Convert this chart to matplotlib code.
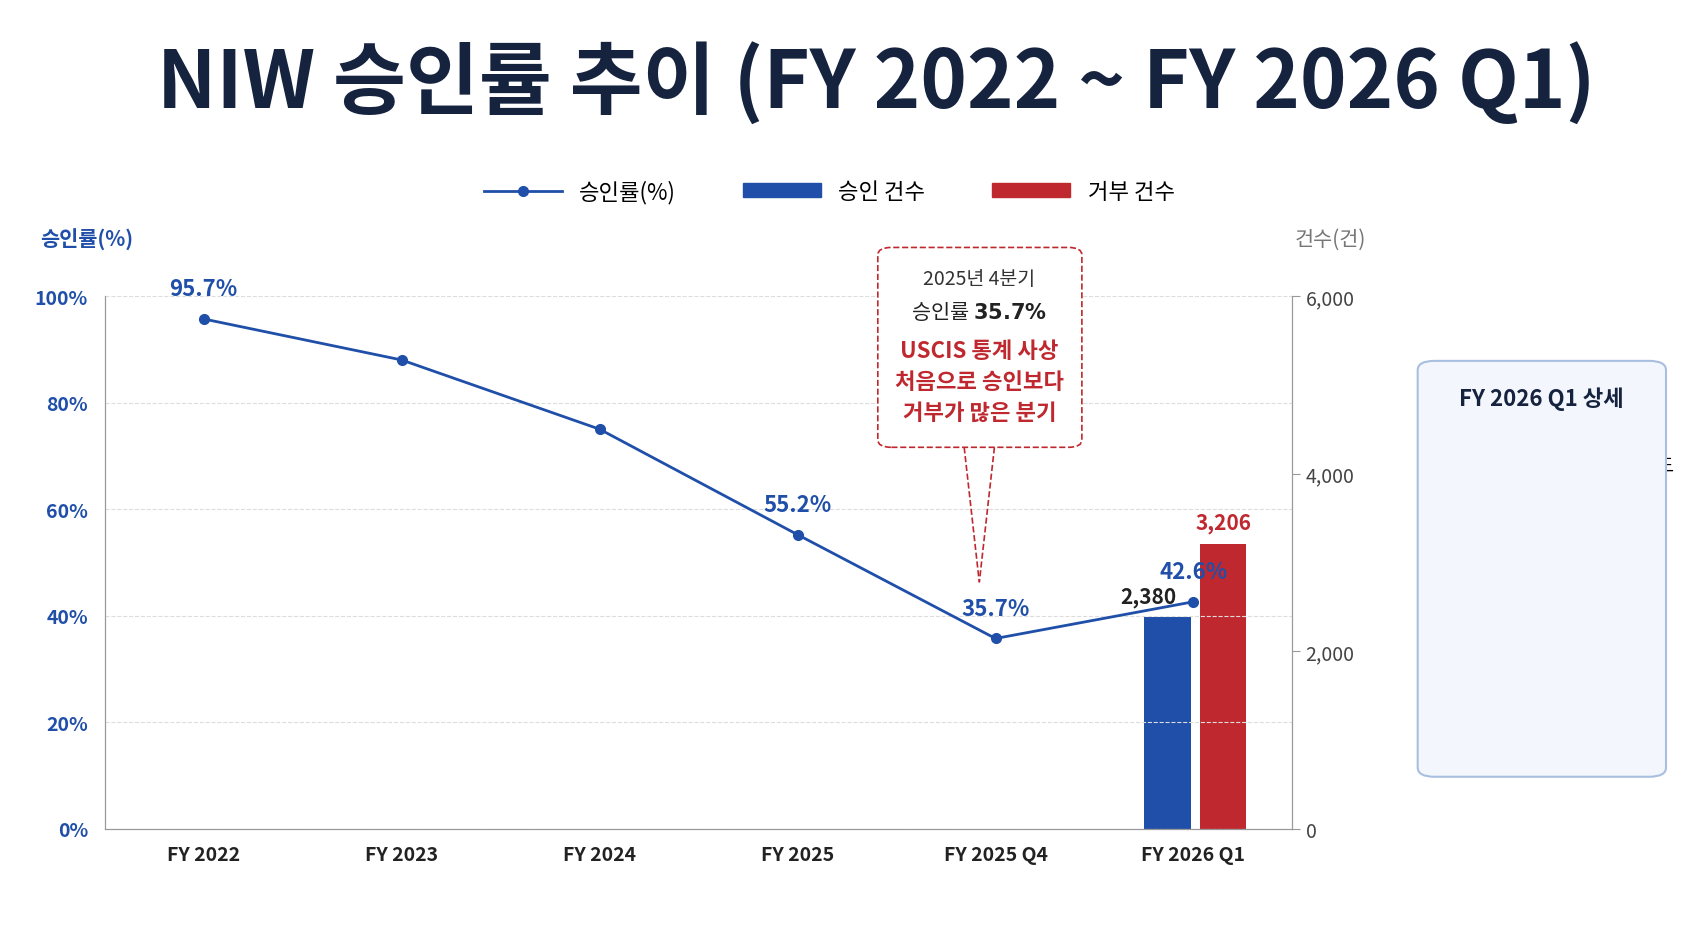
import matplotlib
matplotlib.use("Agg")
import matplotlib.pyplot as plt
from matplotlib.patches import FancyBboxPatch, Circle, Rectangle
from matplotlib.lines import Line2D

plt.rcParams['font.family'] = ['Noto Sans CJK KR', 'DejaVu Sans']

categories = ['FY 2022', 'FY 2023', 'FY 2024', 'FY 2025', 'FY 2025 Q4', 'FY 2026 Q1']
approval_rate = [95.7, 88.0, 75.0, 55.2, 35.7, 42.6]
rate_labels = {0: '95.7%', 3: '55.2%', 4: '35.7%', 5: '42.6%'}
approved_q1 = 2380
denied_q1 = 3206

BLUE = '#1f4fa8'
RED = '#c0282f'
NAVY = '#15233f'

# layout coordinates measured on a 1568x860 view of the reference
W, H = 1568, 860
fig = plt.figure(figsize=(16.93, 9.29), dpi=100)
fig.patch.set_facecolor('white')

def fx(px):
    return px / W

def fy(py):
    return 1 - py / H

ax = fig.add_axes([fx(97), fy(768), fx(1197) - fx(97), fy(275) - fy(768)])
ax2 = ax.twinx()
ax.set_zorder(ax2.get_zorder() + 1)
ax.patch.set_visible(False)

x = list(range(len(categories)))
ax.plot(x, approval_rate, color=BLUE, lw=2, marker='o', ms=7, zorder=5)
for i, lbl in rate_labels.items():
    ax.text(i, approval_rate[i] + 3.5, lbl, ha='center', va='bottom', color=BLUE,
            fontsize=16, fontweight='bold')

ax.set_xlim(-0.5, 5.5)
ax.set_ylim(0, 100)
ax.set_yticks([0, 20, 40, 60, 80, 100])
ax.set_yticklabels([f'{v}%' for v in [0, 20, 40, 60, 80, 100]], color=BLUE,
                   fontsize=14, fontweight='bold')
ax.set_xticks(x)
ax.set_xticklabels(categories, fontsize=14, fontweight='bold', color='#222222')
ax.grid(axis='y', ls='--', color='#dddddd', lw=0.8)
ax.tick_params(length=0, pad=12)

ax2.bar(5 - 0.13, approved_q1, width=0.235, color=BLUE, zorder=2)
ax2.bar(5 + 0.15, denied_q1, width=0.235, color=RED, zorder=2)
ax2.text(5 - 0.13 - 0.1, approved_q1 + 120, f'{approved_q1:,}', ha='center', va='bottom',
         fontsize=15, fontweight='bold', color='#222222')
ax2.text(5 + 0.15, denied_q1 + 120, f'{denied_q1:,}', ha='center', va='bottom',
         fontsize=15, fontweight='bold', color=RED)
ax2.set_ylim(0, 6000)
ax2.set_yticks([0, 2000, 4000, 6000])
ax2.set_yticklabels(['0', '2,000', '4,000', '6,000'], fontsize=14, color='#444444')
ax2.tick_params(length=6, color='#999999')

for a in (ax, ax2):
    a.spines['top'].set_visible(False)
    for s in ('left', 'right', 'bottom'):
        a.spines[s].set_color('#999999')

# title
fig.text(fx(812), fy(77), 'NIW 승인률 추이 (FY 2022 ~ FY 2026 Q1)', ha='center', va='center',
         fontsize=57, fontweight='bold', color=NAVY)

# legend
handles = [Line2D([0], [0], color=BLUE, lw=2, marker='o', ms=7),
           Rectangle((0, 0), 1, 1, color=BLUE),
           Rectangle((0, 0), 1, 1, color=RED)]
fig.legend(handles, ['승인률(%)', '승인 건수', '거부 건수'], loc='center',
           bbox_to_anchor=(fx(768), fy(178)), ncol=3, frameon=False, fontsize=16,
           handlelength=3.5, handleheight=0.6, columnspacing=3)

fig.text(fx(37), fy(222), '승인률(%)', ha='left', va='center', fontsize=15,
         fontweight='bold', color=BLUE)
fig.text(fx(1265), fy(222), '건수(건)', ha='right', va='center', fontsize=15, color='#777777')

# callout
cb = FancyBboxPatch((fx(813), fy(415)), fx(189), fy(230) - fy(415),
                    boxstyle='round,pad=0,rounding_size=0.008', transform=fig.transFigure,
                    fc='white', ec=RED, ls='--', lw=1.2, zorder=10)
fig.patches.append(cb)
for xa in (893, 921):
    fig.lines.append(Line2D([fx(xa), fx(907)], [fy(415), fy(540)], transform=fig.transFigure,
                            color=RED, ls='--', lw=1.2))
cx = fx(907)
fig.text(cx, fy(259), '2025년 4분기', ha='center', va='center', fontsize=14, color='#333333',
         zorder=11)
fig.text(cx, fy(289), '승인률 $\\bf{35.7\\%}$', ha='center', va='center', fontsize=15,
         color='#222222', zorder=11)
fig.text(cx, fy(354), 'USCIS 통계 사상\n처음으로 승인보다\n거부가 많은 분기', ha='center',
         va='center', fontsize=16, fontweight='bold', color=RED, linespacing=1.45, zorder=11)

# side panel
pb = FancyBboxPatch((fx(1313), fy(720)), fx(230), fy(335) - fy(720),
                    boxstyle='round,pad=0,rounding_size=0.01', transform=fig.transFigure,
                    fc='#f3f7fd', ec='#a9bfe0', lw=1.5)
fig.patches.append(pb)
fig.text(fx(1428), fy(370), 'FY 2026 Q1 상세', ha='center', va='center', fontsize=16,
         fontweight='bold', color=NAVY)

ax_icons = fig.add_axes([0, 0, 1, 1], facecolor='none')
ax_icons.set_xlim(0, W)
ax_icons.set_ylim(H, 0)
ax_icons.axis('off')
ax_icons.add_patch(Rectangle((1326, 424), 30, 28, fc='white', ec=BLUE, lw=2))
ax_icons.add_patch(Rectangle((1326, 424), 30, 8, fc=BLUE, ec=BLUE, lw=2))
for cxp in (1333, 1341, 1349):
    for cyp in (438, 445):
        ax_icons.add_patch(Rectangle((cxp - 2, cyp - 2), 4, 4, color=BLUE))
ax_icons.add_patch(Circle((1341, 572), 15, color=BLUE))
ax_icons.text(1341, 573, '✓', ha='center', va='center', color='white', fontsize=16,
              fontweight='bold', family='DejaVu Sans')
ax_icons.add_patch(Circle((1341, 661), 15, color=RED))
ax_icons.text(1341, 662, '✕', ha='center', va='center', color='white', fontsize=14,
              fontweight='bold', family='DejaVu Sans')
ax_icons.plot([1326, 1528], [525, 525], color='#d5deeb', lw=1)

ax_icons.text(1368, 432, 'USCIS는 2026 회계연도', ha='left', va='center', fontsize=14)
ax_icons.text(1368, 459, '1분기에 총 ', ha='left', va='center', fontsize=14)
ax_icons.text(1444, 459, '5,586건', ha='left', va='center', fontsize=14,
              fontweight='bold', color=BLUE)
ax_icons.text(1504, 459, '의', ha='left', va='center', fontsize=14)
ax_icons.text(1368, 487, '청원율 심사', ha='left', va='center', fontsize=14)

ax_icons.text(1368, 562, '승인:', ha='left', va='center', fontsize=16)
ax_icons.text(1425, 562, f'{approved_q1:,}건', ha='left', va='center', fontsize=16,
              fontweight='bold', color=BLUE)
ax_icons.text(1368, 592, '(승인률 42.6%)', ha='left', va='center', fontsize=16)
ax_icons.text(1368, 655, '거부:', ha='left', va='center', fontsize=16)
ax_icons.text(1425, 655, f'{denied_q1:,}건', ha='left', va='center', fontsize=16,
              fontweight='bold', color=RED)
ax_icons.text(1368, 685, '(거부율 57.4%)', ha='left', va='center', fontsize=16)

fig.savefig('out.png', dpi=100)
